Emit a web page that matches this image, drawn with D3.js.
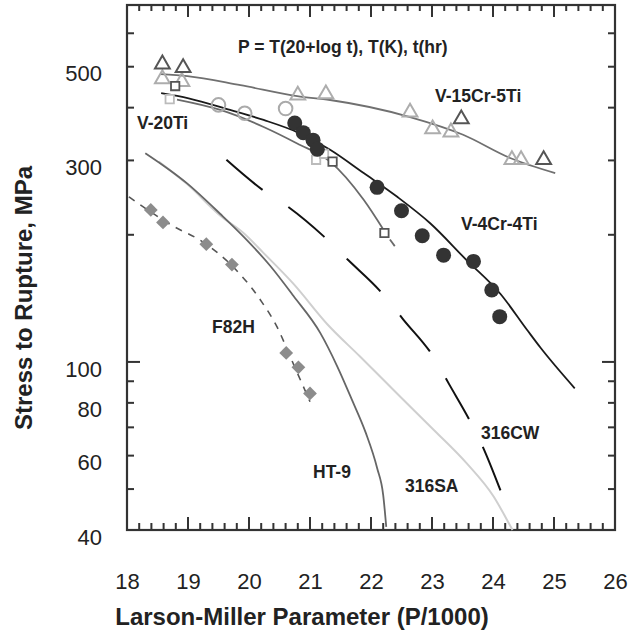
<!DOCTYPE html>
<html><head><meta charset="utf-8">
<script src="https://cdn.jsdelivr.net/npm/d3@7"></script>
<style>body{margin:0;background:#fff}svg{display:block}</style>
</head><body>
<svg id="chart" width="638" height="634"></svg>
<script>
// ---------- data (P/1000, stress MPa) ----------
const xTickValues = [18, 19, 20, 21, 22, 23, 24, 25, 26];
const yTickValues = [40, 60, 80, 100, 300, 500];
const yMinorValues = [50, 60, 70, 80, 90, 200, 300, 400, 500, 600];
const yMajorValues = [100];

const v15Line = [[18.55,480],[18.99,475],[19.86,452],[20.79,426],[21.33,417],[22.64,380],[23.51,345],[24.28,304],[25.02,280]];
const v15DarkTri = [[18.58,507],[18.92,497],[23.48,376],[24.83,301]];
const v15LightTri = [[18.58,468],[18.90,461],[20.80,428],[21.26,431],[22.64,390],[23.01,356],[23.31,350],[24.31,301],[24.46,301]];

const v20Line = [[18.82,418],[19.53,395],[20.24,360],[20.79,329],[21.33,298],[21.88,242],[22.21,205]];
const v20Tail = [[22.31,195],[22.39,188]];
const v20LightSq = [[18.70,419],[21.10,301],[21.23,311]];
const v20DarkSq = [[18.79,450],[21.37,298],[22.22,202]];

const v4Line = [[18.56,433],[19.01,421],[19.69,395],[20.24,374],[20.79,350],[21.33,318],[21.88,280],[22.43,246],[22.97,213],[23.57,174],[24.12,145],[24.56,119],[24.78,108],[25.34,86.6]];
const v4Filled = [[20.75,368],[20.89,349],[21.05,335],[21.12,319],[22.10,259],[22.50,228],[22.84,199],[23.19,179],[23.68,173],[23.98,148],[24.11,128]];
const v4Open = [[19.50,406],[19.93,388],[20.60,398]];

const cw316 = [[19.63,301],[20.23,255],[20.64,233],[21.23,198],[21.63,174],[22.19,145],[22.53,126],[23.04,102],[23.28,88.6],[23.64,71.7],[23.84,62.6],[24.10,50.6],[24.20,46.4]];
const ht9 = [[18.30,312],[18.98,265],[19.53,224],[19.97,194],[20.35,168.7],[20.73,143.2],[21.17,117],[21.45,97.4],[21.69,81.2],[21.91,68.2],[22.10,56.1],[22.20,48.4],[22.25,40.7]];
const sa316 = [[18.52,298],[18.98,264],[19.53,222],[19.91,202],[20.24,181],[20.73,153],[21.28,123],[21.82,103],[22.48,82.7],[23.03,69.0],[23.57,57.5],[24.01,48.0],[24.26,41.5],[24.32,40]];
const f82hLine = [[18.03,246],[18.40,226],[18.70,212],[19.30,190],[19.72,169],[20.19,140],[20.46,121],[20.70,101],[21.00,80.5]];
const f82hPts = [[18.39,229],[18.59,214],[19.30,190],[19.72,170],[20.61,105],[20.81,97.1],[21.00,84.2]];

// ---------- layout ----------
const svg = d3.select("#chart");
const L = 127, R = 615, T = 5, B = 530;
const x = d3.scaleLinear().domain([18, 26]).range([L, R]);
const y = d3.scaleLog().domain([40, 700]).range([B, T]);
const FONT = "'Liberation Sans', Arial, Helvetica, sans-serif";
const AX = "#333";

const line = d3.line().x(d => x(d[0])).y(d => y(d[1])).curve(d3.curveMonotoneX);

const xMinor = d3.range(0, 41).map(i => 18 + i * 0.2);

// tick labels via d3 axes
const gB = svg.append("g").attr("transform", `translate(0,${B})`)
  .call(d3.axisBottom(x).tickValues(xTickValues).tickSize(0).tickPadding(43).tickFormat(d3.format("d")));
const gL = svg.append("g").attr("transform", `translate(${L},0)`)
  .call(d3.axisLeft(y).tickValues(yTickValues).tickSize(0).tickPadding(25).tickFormat(d3.format("d")));
svg.selectAll(".domain").remove();
svg.selectAll(".tick line").remove();
svg.selectAll(".tick text").attr("font-family", FONT).attr("font-size", 22).attr("fill", "#222");
gL.selectAll(".tick text").attr("dy", "0.64em");

// frame
svg.append("rect").attr("x", L).attr("y", T).attr("width", R - L).attr("height", B - T)
  .attr("fill", "none").attr("stroke", AX).attr("stroke-width", 2.2);

// tick marks as rects
const tickG = svg.append("g").attr("fill", AX);
const tw = 2;
xMinor.forEach((v, i) => {
  const px = x(v);
  const major = i % 5 === 0;
  tickG.append("rect").attr("x", px - tw / 2).attr("y", B - (major ? 13 : 7)).attr("width", tw).attr("height", major ? 13 : 7);
  tickG.append("rect").attr("x", px - tw / 2).attr("y", T).attr("width", tw).attr("height", major ? 12 : 6);
});
yMinorValues.concat(yMajorValues).forEach(v => {
  const py = y(v);
  const big = yMajorValues.includes(v);
  tickG.append("rect").attr("x", L).attr("y", py - tw / 2).attr("width", big ? 13 : 7).attr("height", tw);
  tickG.append("rect").attr("x", R - (big ? 13 : 7)).attr("y", py - tw / 2).attr("width", big ? 13 : 7).attr("height", tw);
});

// ---------- curves ----------
const curves = svg.append("g").attr("fill", "none");
curves.append("path").attr("d", line(sa316)).attr("stroke", "#cfcfcf").attr("stroke-width", 2);
curves.append("path").attr("d", line(ht9)).attr("stroke", "#666").attr("stroke-width", 1.8);
curves.append("path").attr("d", line(cw316)).attr("stroke", "#111").attr("stroke-width", 2).attr("stroke-dasharray", "47,31");
curves.append("path").attr("d", line(f82hLine)).attr("stroke", "#555").attr("stroke-width", 1.6).attr("stroke-dasharray", "7,7");
curves.append("path").attr("d", line(v15Line)).attr("stroke", "#707070").attr("stroke-width", 1.8);
curves.append("path").attr("d", line(v20Line)).attr("stroke", "#6a6a6a").attr("stroke-width", 1.8);
curves.append("path").attr("d", line(v20Tail)).attr("stroke", "#6a6a6a").attr("stroke-width", 1.8);
curves.append("path").attr("d", line(v4Line)).attr("stroke", "#1a1a1a").attr("stroke-width", 1.8);

// ---------- markers ----------
const tri = d3.symbol().type(d3.symbolTriangle).size(95);
const sq = d3.symbol().type(d3.symbolSquare).size(70);
const dia = d3.symbol().type(d3.symbolSquare).size(95);

svg.append("g").selectAll("path").data(v15LightTri).join("path")
  .attr("d", tri).attr("transform", d => `translate(${x(d[0])},${y(d[1])})`)
  .attr("fill", "none").attr("stroke", "#adadad").attr("stroke-width", 2);
svg.append("g").selectAll("path").data(v15DarkTri).join("path")
  .attr("d", tri).attr("transform", d => `translate(${x(d[0])},${y(d[1])})`)
  .attr("fill", "none").attr("stroke", "#555").attr("stroke-width", 2);

svg.append("g").selectAll("path").data(v20LightSq).join("path")
  .attr("d", sq).attr("transform", d => `translate(${x(d[0])},${y(d[1])})`)
  .attr("fill", "#fff").attr("stroke", "#bbb").attr("stroke-width", 1.8);
svg.append("g").selectAll("path").data(v20DarkSq).join("path")
  .attr("d", sq).attr("transform", d => `translate(${x(d[0])},${y(d[1])})`)
  .attr("fill", "#fff").attr("stroke", "#555").attr("stroke-width", 1.8);

svg.append("g").selectAll("circle").data(v4Open).join("circle")
  .attr("cx", d => x(d[0])).attr("cy", d => y(d[1])).attr("r", 6.8)
  .attr("fill", "none").attr("stroke", "#aaa").attr("stroke-width", 2);
svg.append("g").selectAll("circle").data(v4Filled).join("circle")
  .attr("cx", d => x(d[0])).attr("cy", d => y(d[1])).attr("r", 7.5)
  .attr("fill", "#333");

svg.append("g").selectAll("path").data(f82hPts).join("path")
  .attr("d", dia).attr("transform", d => `translate(${x(d[0])},${y(d[1])}) rotate(45)`)
  .attr("fill", "#8c8c8c");

// ---------- labels ----------
const labels = svg.append("g").attr("font-family", FONT).attr("font-weight", "bold").attr("fill", "#222");
const addLabel = (t, px, py, fs) => labels.append("text").attr("x", px).attr("y", py).attr("font-size", fs).text(t);
addLabel("P = T(20+log t), T(K), t(hr)", 238, 53, 17.5);
addLabel("V-15Cr-5Ti", 435, 102, 17.5);
addLabel("V-20Ti", 137, 129, 17.5);
addLabel("V-4Cr-4Ti", 461, 230, 17.5);
addLabel("F82H", 212, 333, 17.5);
addLabel("HT-9", 313, 478, 17.5);
addLabel("316SA", 405, 492, 17.5);
addLabel("316CW", 481, 439, 17.5);

// axis titles
svg.append("text").attr("x", 302).attr("y", 625).attr("text-anchor", "middle")
  .attr("font-family", FONT).attr("font-weight", "bold").attr("font-size", 24).attr("fill", "#222")
  .text("Larson-Miller Parameter (P/1000)");
svg.append("text").attr("transform", "translate(32,298) rotate(-90)").attr("text-anchor", "middle")
  .attr("font-family", FONT).attr("font-weight", "bold").attr("font-size", 24).attr("fill", "#222")
  .text("Stress to Rupture, MPa");
</script>
</body></html>
